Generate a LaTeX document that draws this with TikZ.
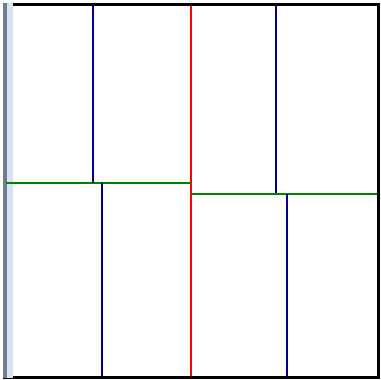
\documentclass[tikz,border=0pt]{standalone}
\usepackage{tikz}
\tikzset{
every picture/.style={line width=0.75pt},
cut/.style={line width=2pt},
hcut/.style={cut,color={rgb, 255:red, 0; green, 128; blue, 0 }},
vcut/.style={cut,color={rgb, 255:red, 0; green, 0; blue, 140 }}}

\begin{document}
\begin{tikzpicture}[x=1pt,y=1pt,yscale=-1,xscale=1]
\useasboundingbox (0,0) rectangle (381,380);

%Shape: Rectangle [id:frame]
\draw [line width=3pt]  (4.5,4.5) rectangle (378.5,377.5) ;
%Shape: Rectangle [id:edge light]
\fill [color={rgb, 255:red, 218; green, 227; blue, 243 }]  (6,3) rectangle (12.5,378) ;
%Shape: Rectangle [id:edge dark]
\fill [color={rgb, 255:red, 112; green, 125; blue, 145 }]  (3,3) rectangle (6.5,378) ;

%Straight Lines [id:red split]
\coordinate (rt) at (190.5,6);
\coordinate (rb) at (190.5,376);
\draw [cut,color={rgb, 255:red, 255; green, 0; blue, 0 }]  (rt) -- (rb) ;
%Straight Lines [id:green left]
\coordinate (gl0) at (6,183);
\coordinate (gl1) at (190.5,183);
\draw [hcut]  (gl0) -- (gl1) ;
%Straight Lines [id:green right]
\coordinate (gr0) at (190.5,194);
\coordinate (gr1) at (377,194);
\draw [hcut]  (gr0) -- (gr1) ;
%Straight Lines [id:blue upper left]
\draw [vcut]  (93,6) -- (93,183) ;
%Straight Lines [id:blue lower left]
\draw [vcut]  (102,183) -- (102,376) ;
%Straight Lines [id:blue upper right]
\draw [vcut]  (275.5,6) -- (275.5,193) ;
%Straight Lines [id:blue lower right]
\draw [vcut]  (287,194) -- (287,376) ;

\end{tikzpicture}
\end{document}
